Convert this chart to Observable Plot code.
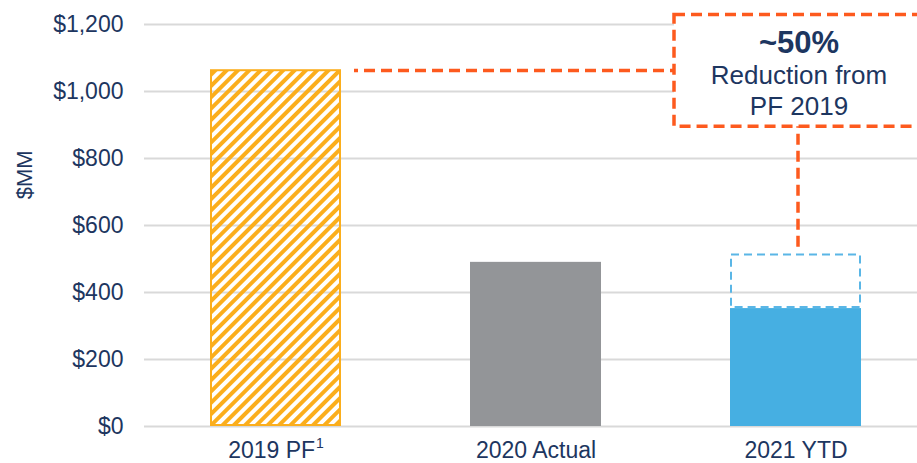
<!DOCTYPE html>
<html><head><meta charset="utf-8">
<script src="https://cdn.jsdelivr.net/npm/d3@7"></script>
<script src="https://cdn.jsdelivr.net/npm/@observablehq/plot@0.6"></script>
<style>
html,body{margin:0;padding:0;background:#fff;overflow:hidden;}
</style></head><body><div id="chart"></div>
<script>
// ---- data ----
const categories = ["2019 PF¹", "2020 Actual", "2021 YTD"];
const values = [1065, 490, 352];
const ytdTarget = 515;          // dashed outline on 2021 YTD
const reductionLevel = 1063;    // dashed reference level from 2019 PF
const yTicks = [0, 200, 400, 600, 800, 1000, 1200];
const yLabel = "$MM";
const annotationTitle = "~50%";
const annotationLines = ["Reduction from", "PF 2019"];

// ---- styles ----
const navy = "#1d3660";
const orange = "#fd5a1e";
const hatchOrange = "#fbae1c";
const gray = "#939598";
const blue = "#46afe2";
const blueDash = "#5ab6e6";
const font = "'Liberation Sans', Arial, sans-serif";

const bars = categories.map((c, i) => ({cat: c, value: values[i]}));

const chart = Plot.plot({
  width: 917, height: 463,
  marginLeft: 144, marginRight: 0, marginTop: 24, marginBottom: 37,
  style: {fontFamily: font, fontSize: "23px", color: navy, background: "white", overflow: "hidden"},
  x: {domain: categories, paddingInner: 0.497, paddingOuter: 0.232, align: 0.54, label: null, tickSize: 0, tickPadding: 15},
  y: {domain: [0, 1200], ticks: yTicks, tickFormat: d3.format("$,"), label: null, tickSize: 0, tickPadding: 21},
  marks: [
    Plot.ruleY(yTicks, {stroke: "#d9d9d9", strokeWidth: 2}),
    // annotation box
    Plot.barY([categories[2]], {x: d => d, y1: 895, y2: 1228, insetLeft: -56, insetRight: -80,
      fill: "white", stroke: orange, strokeWidth: 3.5, strokeDasharray: "11,6"}),
    // 2019 hatched
    Plot.barY([bars[0]], {x: "cat", y: "value", fill: "url(#hatch)", stroke: hatchOrange, strokeWidth: 2, inset: 1}),
    // 2020 actual
    Plot.barY([bars[1]], {x: "cat", y: "value", fill: gray}),
    // 2021 YTD
    Plot.barY([bars[2]], {x: "cat", y: "value", fill: blue}),
    Plot.barY([{cat: categories[2], y1: values[2], y2: ytdTarget}], {x: "cat", y1: "y1", y2: "y2",
      fill: "none", stroke: blueDash, strokeWidth: 2, strokeDasharray: "8,5", inset: 1}),
    // reference line
    Plot.tickY([reductionLevel], {x: () => categories[1], y: d => d, insetLeft: -116, insetRight: -74,
      stroke: orange, strokeWidth: 3.5, strokeDasharray: "11,6", strokeDashoffset: 7}),
    Plot.ruleX([categories[2]], {x: d => d, y1: 535, y2: 895, stroke: orange, strokeWidth: 3.5, strokeDasharray: "11,6", dx: 2}),
    // annotation text
    Plot.text([annotationTitle], {x: () => categories[2], y: 1146, text: d => d, fontSize: 31, fontWeight: "bold", fill: navy, dx: 3}),
    Plot.text([annotationLines[0]], {x: () => categories[2], y: 1048, text: d => d, fontSize: 26, fill: navy, dx: 3}),
    Plot.text([annotationLines[1]], {x: () => categories[2], y: 955, text: d => d, fontSize: 26, fill: navy, dx: 3})
  ]
});

const svg = d3.select(chart);
svg.insert("defs", ":first-child").html(
  `<pattern id="hatch" patternUnits="userSpaceOnUse" width="8" height="8" patternTransform="rotate(45)">
     <rect x="0" y="0" width="4" height="8" fill="${hatchOrange}"/>
   </pattern>`);
// superscript footnote marker on the first category label
svg.selectAll("text").each(function() {
  if ((this.textContent || "").includes("¹")) {
    const base = this.textContent.replace("¹", "");
    while (this.firstChild) this.removeChild(this.firstChild);
    const t = d3.select(this);
    t.append("tspan").text(base);
    t.append("tspan").attr("dy", "-0.72em").attr("dx", "1").style("font-size", "14px").text("1");
  }
});
const yScale = chart.scale("y");
svg.append("text")
  .attr("transform", `translate(24,${yScale.apply(750)}) rotate(-90)`)
  .attr("text-anchor", "middle").attr("dy", "0.35em")
  .attr("fill", navy).style("font-size", "22px").style("font-family", font)
  .text(yLabel);

document.getElementById("chart").appendChild(chart);
</script></body></html>
